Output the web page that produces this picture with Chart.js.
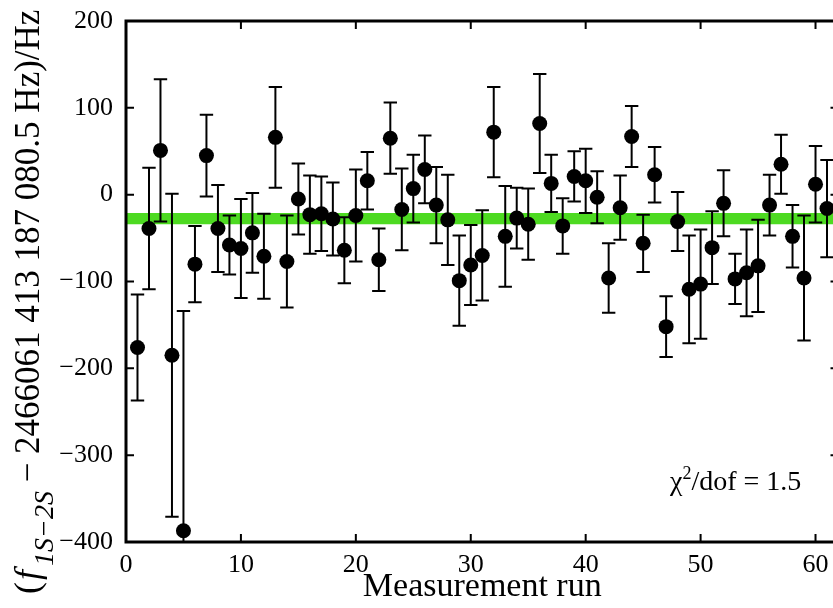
<!DOCTYPE html>
<html>
<head>
<meta charset="utf-8">
<script src="https://cdn.jsdelivr.net/npm/chart.js@4.4.1/dist/chart.umd.min.js"></script>
<style>
html,body{margin:0;padding:0;overflow:hidden;background:#fff;width:833px;height:608px}
#wrap{position:relative;width:846px;height:608px}
</style>
</head>
<body>
<div id="wrap"><canvas id="c" width="846" height="608"></canvas></div>
<script>
// ---- data ----
const runs = [1,2,3,4,5,6,7,8,9,10,11,12,13,14,15,16,17,18,19,20,
  21,22,23,24,25,26,27,28,29,30,31,32,33,34,35,36,37,38,39,40,
  41,42,43,44,45,46,47,48,49,50,51,52,53,54,55,56,57,58,59,60,61];
const values = [-176,-39,51,-185,-387,-80,45,-39,-58,-62,-44,-71,66,-77,-5,-23,-22,-28,-64,-24,
  16,-75,65,-17,7,29,-12,-29,-99,-81,-70,72,-48,-27,-34,82,13,-36,21,16,
  -3,-96,-15,67,-56,23,-152,-31,-109,-103,-61,-10,-97,-90,-82,-12,35,-48,-96,12,-16];
const errors = [61,70,82,186,253,44,47,50,34,57,46,49,58,53,41,45,43,42,38,53,
  33,36,41,47,39,39,44,52,52,46,52,52,58,35,41,57,33,32,29,37,
  30,40,37,35,33,32,35,34,62,63,42,38,29,50,53,35,34,36,72,44,56];
const xTicks = [0,10,20,30,40,50,60];
const yTicks = [-400,-300,-200,-100,0,100,200];
const xRange = [0,62];
const yRange = [-400,200];
const meanValue = -27.5;
const meanUncertainty = 6.5;
const xTitle = 'Measurement run';
const yTitleParts = ['(', 'f', '1S\u22122S', ' \u2212 2466061 413 187 080.5 Hz)/Hz'];
const chiParts = ['\u03c7', '2', '/dof = 1.5'];

const SERIF = '"Liberation Serif", "Times New Roman", serif';
const GREEN = 'rgb(77,218,33)';

const points = runs.map((r,i)=>({x:r, y:values[i]}));
const bandLow = [{x:xRange[0], y:meanValue-meanUncertainty},{x:xRange[1], y:meanValue-meanUncertainty}];

const fmt = v => v < 0 ? '\u2212' + Math.abs(v) : String(v);

const overlay = {
  id: 'overlay',
  beforeDatasetDraw(chart, args) {
    if (args.index !== 1) return;
    const ctx = chart.ctx, xs = chart.scales.x, ys = chart.scales.y, a = chart.chartArea;
    ctx.save();
    ctx.beginPath();
    ctx.rect(a.left, a.top, a.right - a.left, a.bottom - a.top);
    ctx.clip();
    ctx.strokeStyle = '#000';
    ctx.lineWidth = 2;
    runs.forEach((r, i) => {
      const x = xs.getPixelForValue(r);
      const yt = ys.getPixelForValue(values[i] + errors[i]);
      const yb = ys.getPixelForValue(values[i] - errors[i]);
      ctx.beginPath();
      ctx.moveTo(x, yt); ctx.lineTo(x, yb);
      ctx.moveTo(x - 6.7, yt); ctx.lineTo(x + 6.7, yt);
      ctx.moveTo(x - 6.7, yb); ctx.lineTo(x + 6.7, yb);
      ctx.stroke();
    });
    ctx.restore();
  },
  afterDraw(chart) {
    const ctx = chart.ctx, xs = chart.scales.x, ys = chart.scales.y, a = chart.chartArea;
    ctx.save();
    // inward ticks
    ctx.strokeStyle = '#000';
    ctx.lineWidth = 2;
    const tl = 8;
    ctx.beginPath();
    xTicks.forEach(v => {
      const x = xs.getPixelForValue(v);
      ctx.moveTo(x, a.bottom); ctx.lineTo(x, a.bottom - tl);
      ctx.moveTo(x, a.top); ctx.lineTo(x, a.top + tl);
    });
    yTicks.forEach(v => {
      const y = ys.getPixelForValue(v);
      ctx.moveTo(a.left, y); ctx.lineTo(a.left + tl, y);
      ctx.moveTo(a.right, y); ctx.lineTo(a.right - tl, y);
    });
    ctx.stroke();
    // frame
    ctx.lineWidth = 3;
    ctx.strokeRect(a.left, a.top, a.right - a.left, a.bottom - a.top);

    // y title (rotated, with subscript)
    ctx.fillStyle = '#000';
    ctx.translate(39, 594);
    ctx.rotate(-Math.PI / 2);
    ctx.textAlign = 'left';
    ctx.textBaseline = 'alphabetic';
    let x = 0;
    const seg = (t, font, dy) => { ctx.font = font; ctx.fillText(t, x, dy); x += ctx.measureText(t).width; };
    seg(yTitleParts[0], '36px ' + SERIF, 0);
    x += 2;
    seg(yTitleParts[1], 'italic 36px ' + SERIF, 0);
    x += 4;
    seg(yTitleParts[2], 'italic 28px ' + SERIF, 14);
    seg(yTitleParts[3], '35px ' + SERIF, 0);
    ctx.restore();

    // chi^2 annotation
    ctx.save();
    ctx.fillStyle = '#000';
    ctx.textBaseline = 'alphabetic';
    ctx.textAlign = 'left';
    let cx = 670;
    const cy = 490;
    ctx.font = '28px ' + SERIF; ctx.fillText(chiParts[0], cx, cy); cx += ctx.measureText(chiParts[0]).width;
    ctx.font = '18px ' + SERIF; ctx.fillText(chiParts[1], cx, cy - 11); cx += ctx.measureText(chiParts[1]).width;
    ctx.font = '28px ' + SERIF; ctx.fillText(chiParts[2], cx, cy);
    ctx.restore();
  }
};

new Chart(document.getElementById('c'), {
  type: 'scatter',
  data: {
    datasets: [
      {
        type: 'line',
        data: bandLow,
        borderWidth: 0,
        borderColor: GREEN,
        pointRadius: 0,
        fill: { value: meanValue + meanUncertainty },
        backgroundColor: GREEN,
        order: 2
      },
      {
        data: points,
        pointRadius: 7.5,
        pointHoverRadius: 7.5,
        backgroundColor: '#000',
        borderWidth: 0,
        showLine: false,
        order: 1
      }
    ]
  },
  options: {
    responsive: false,
    animation: false,
    devicePixelRatio: 1,
    events: [],
    layout: { padding: { left: 0, top: 21, right: 7, bottom: 0 } },
    plugins: { legend: { display: false }, tooltip: { enabled: false } },
    scales: {
      x: {
        type: 'linear',
        min: xRange[0], max: xRange[1],
        afterBuildTicks: s => { s.ticks = xTicks.map(v => ({ value: v })); },
        afterFit: s => { s.height = 66; },
        grid: { display: false },
        border: { display: false },
        ticks: { font: { family: SERIF, size: 26 }, color: '#000', padding: 0, maxRotation: 0, autoSkip: false },
        title: { display: true, text: xTitle, color: '#000', font: { family: SERIF, size: 34, lineHeight: 1.2 }, padding: { top: 0, bottom: 1 } }
      },
      y: {
        type: 'linear',
        min: yRange[0], max: yRange[1],
        afterBuildTicks: s => { s.ticks = yTicks.map(v => ({ value: v })); },
        afterFit: s => { s.width = 126; },
        grid: { display: false },
        border: { display: false },
        ticks: { font: { family: SERIF, size: 26 }, color: '#000', padding: 5, callback: fmt, autoSkip: false }
      }
    }
  },
  plugins: [overlay]
});
</script>
</body>
</html>
